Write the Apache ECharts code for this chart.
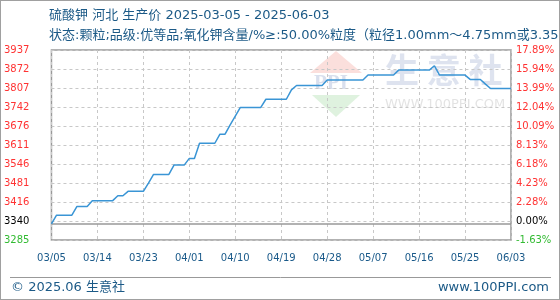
<!DOCTYPE html>
<html>
<head>
<meta charset="utf-8">
<script src="https://cdn.jsdelivr.net/npm/echarts@6/dist/echarts.min.js"></script>
<style>
  html, body { margin: 0; padding: 0; background: #fff; }
  #chart { width: 558px; height: 298px; border: 1px solid #a0a0a0; }
</style>
</head>
<body>
<div id="chart"></div>
<script>
// 硫酸钾 河北 生产价, daily values 2025-03-05 .. 2025-06-03
const startDate = '2025-03-05';
const prices = [
  3340, 3370, 3370, 3370, 3370, 3400, 3400, 3400, 3420, 3420,
  3420, 3420, 3420, 3437, 3437, 3452, 3452, 3452, 3452, 3480,
  3510, 3510, 3510, 3510, 3542, 3542, 3542, 3565, 3565, 3617,
  3617, 3617, 3617, 3648, 3648, 3680, 3710, 3740, 3740, 3740,
  3740, 3740, 3768, 3768, 3768, 3768, 3768, 3800, 3815, 3815,
  3815, 3815, 3815, 3815, 3834, 3834, 3834, 3834, 3834, 3834,
  3834, 3834, 3851, 3851, 3851, 3851, 3851, 3851, 3868, 3868,
  3868, 3868, 3868, 3868, 3868, 3883, 3851, 3851, 3851, 3851,
  3851, 3851, 3836, 3836, 3836, 3820, 3805, 3805, 3805, 3805,
  3805
];
const basePrice = 3340;
const leftLabels = ['3285', '3340', '3416', '3481', '3546', '3611', '3676', '3742', '3807', '3872', '3937'];
const rightLabels = ['-1.63%', '0.00%', '2.28%', '4.23%', '6.18%', '8.13%', '10.09%', '12.04%', '13.99%', '15.94%', '17.89%'];
const axisMin = 3285;
const axisStep = 65.2;

// dates as MM/DD
const dates = [];
(function () {
  const d = new Date(startDate + 'T00:00:00Z');
  for (let i = 0; i < prices.length; i++) {
    const mm = String(d.getUTCMonth() + 1).padStart(2, '0');
    const dd = String(d.getUTCDate()).padStart(2, '0');
    dates.push(mm + '/' + dd);
    d.setUTCDate(d.getUTCDate() + 1);
  }
})();

const labelColor = (idx) => idx === 0 ? '#33bb33' : (idx === 1 ? '#000' : '#ff3333');
const fontFam = '"DejaVu Sans", "Noto Sans CJK SC", sans-serif';

const chart = echarts.init(document.getElementById('chart'));

const yCommon = {
  type: 'value',
  min: axisMin,
  max: axisMin + axisStep * 10,
  interval: axisStep,
  axisLine: { show: false },
  axisTick: { show: false }
};

chart.setOption({
  animation: false,
  grid: { left: 50, right: 48, top: 49, bottom: 59, show: true, borderColor: '#999', borderWidth: 1.5 },
  xAxis: {
    type: 'category',
    data: dates,
    boundaryGap: false,
    axisLine: { show: false },
    axisTick: { show: false },
    axisLabel: { interval: 8, color: '#1a5a8a', fontSize: 10, fontFamily: fontFam, margin: 13 },
    splitLine: { show: true, interval: 8, lineStyle: { color: '#c8c8c8', type: [3, 3] } }
  },
  yAxis: [
    Object.assign({}, yCommon, {
      position: 'left',
      axisLabel: {
        margin: 22, fontSize: 10, fontFamily: fontFam, align: 'right',
        formatter: (v, i) => '{c' + Math.min(i, 2) + '|' + leftLabels[i] + '}',
        rich: { c0: { color: labelColor(0) }, c1: { color: labelColor(1) }, c2: { color: labelColor(2) } }
      },
      splitLine: { show: true, lineStyle: { color: '#c8c8c8', type: [3, 3] } }
    }),
    Object.assign({}, yCommon, {
      position: 'right',
      axisLabel: {
        margin: 5, fontSize: 10, fontFamily: fontFam, align: 'left',
        formatter: (v, i) => '{c' + Math.min(i, 2) + '|' + rightLabels[i] + '}',
        rich: { c0: { color: labelColor(0) }, c1: { color: labelColor(1) }, c2: { color: labelColor(2) } }
      },
      splitLine: { show: false }
    })
  ],
  series: [{
    type: 'line',
    data: prices,
    symbol: 'none',
    z: 5,
    lineStyle: { color: '#3a95d5', width: 1.5 },
    markLine: {
      silent: true,
      symbol: 'none',
      label: { show: false },
      lineStyle: { color: '#999', type: 'solid', width: 1.5 },
      data: [{ yAxis: basePrice }]
    }
  }],
  graphic: [
    // watermark logo
    { type: 'polygon', z: 0, silent: true, shape: { points: [[335, 50], [309, 72], [361, 72]] }, style: { fill: 'rgba(240,140,130,0.28)' } },
    { type: 'text', z: 0, silent: true, left: 313, top: 72, style: { text: 'PPI', font: 'bold 21px "Liberation Serif", serif', fill: 'rgba(170,185,215,0.45)' } },
    { type: 'polygon', z: 0, silent: true, shape: { points: [[311, 94], [359, 94], [335, 116]] }, style: { fill: 'rgba(140,210,140,0.28)' } },
    { type: 'text', z: 0, silent: true, left: 384, top: 52, style: { text: '生 意 社', font: 'bold 34px "Noto Sans CJK SC", sans-serif', fill: 'rgba(200,208,228,0.6)' } },
    { type: 'text', z: 0, silent: true, left: 384, top: 97, style: { text: 'WWW.100PPI.COM', font: '13px "DejaVu Sans", sans-serif', fill: 'rgba(215,215,215,0.7)' } },
    // titles
    { type: 'text', left: 48, top: 8, style: { text: '硫酸钾 河北 生产价 2025-03-05 - 2025-06-03', font: '13px ' + fontFam, fill: '#1c5a87' } },
    { type: 'text', left: 48, top: 28, style: { text: '状态:颗粒;品级:优等品;氧化钾含量/%≥:50.00%粒度（粒径1.00mm～4.75mm或3.35mm～5.60mm）', font: '13px ' + fontFam, fill: '#1c5a87' } },
    // footer
    { type: 'line', shape: { x1: 9, y1: 276.5, x2: 550, y2: 276.5 }, style: { stroke: '#999', lineWidth: 1 } },
    { type: 'text', left: 10, top: 280, style: { text: '© 2025.06 生意社', font: '13px ' + fontFam, fill: '#1c5a87' } },
    { type: 'text', right: 10, top: 280, style: { text: 'www.100PPI.com', font: '13px ' + fontFam, fill: '#1c5a87' } }
  ]
});
</script>
</body>
</html>
